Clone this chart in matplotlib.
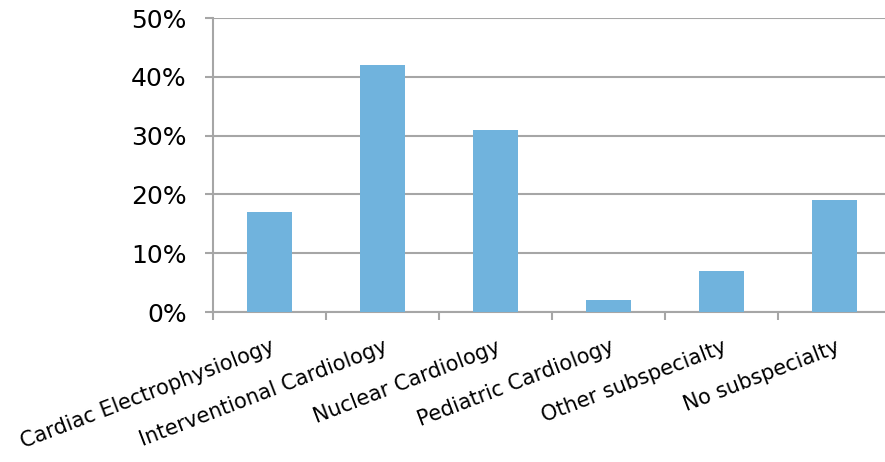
import matplotlib.pyplot as plt
import numpy as np
from matplotlib.ticker import PercentFormatter, FixedLocator

categories = ['Cardiac Electrophysiology', 'Interventional Cardiology', 'Nuclear Cardiology',
              'Pediatric Cardiology', 'Other subspecialty', 'No subspecialty']
shares = [17, 42, 31, 2, 7, 19]

plt.rcParams['font.family'] = ['DejaVu Sans']

fig = plt.figure(figsize=(8.85, 4.62), dpi=100)
ax = fig.add_axes([213/885, 150/462, 678/885, 294/462])

x = np.arange(len(categories))
ax.bar(x, shares, width=0.4, color='#70b3dd', zorder=3)

ax.set_xlim(-0.5, len(categories) - 0.5)
ax.set_ylim(0, 50)
ax.set_yticks(np.arange(0, 51, 10))
ax.yaxis.set_major_formatter(PercentFormatter(decimals=0))
ax.grid(axis='y', color='#a6a6a6', linewidth=1.5, zorder=0)

# category boundary ticks on the x axis
ax.xaxis.set_major_locator(FixedLocator(np.arange(-0.5, len(categories), 1.0)))
ax.set_xticklabels([])
ax.tick_params(axis='x', length=6, width=1.5, color='#a6a6a6')
ax.tick_params(axis='y', length=6, width=1.5, color='#a6a6a6', labelsize=18, pad=13)

for side in ['top', 'right']:
    ax.spines[side].set_visible(False)
for side in ['left', 'bottom']:
    ax.spines[side].set_color('#a6a6a6')
    ax.spines[side].set_linewidth(1.5)

for xi, name in zip(x, categories):
    ax.text(xi + 0.04, -5.8, name, rotation=21, rotation_mode='anchor',
            ha='right', va='center', fontsize=15)

fig.savefig('out.png', dpi=100)
